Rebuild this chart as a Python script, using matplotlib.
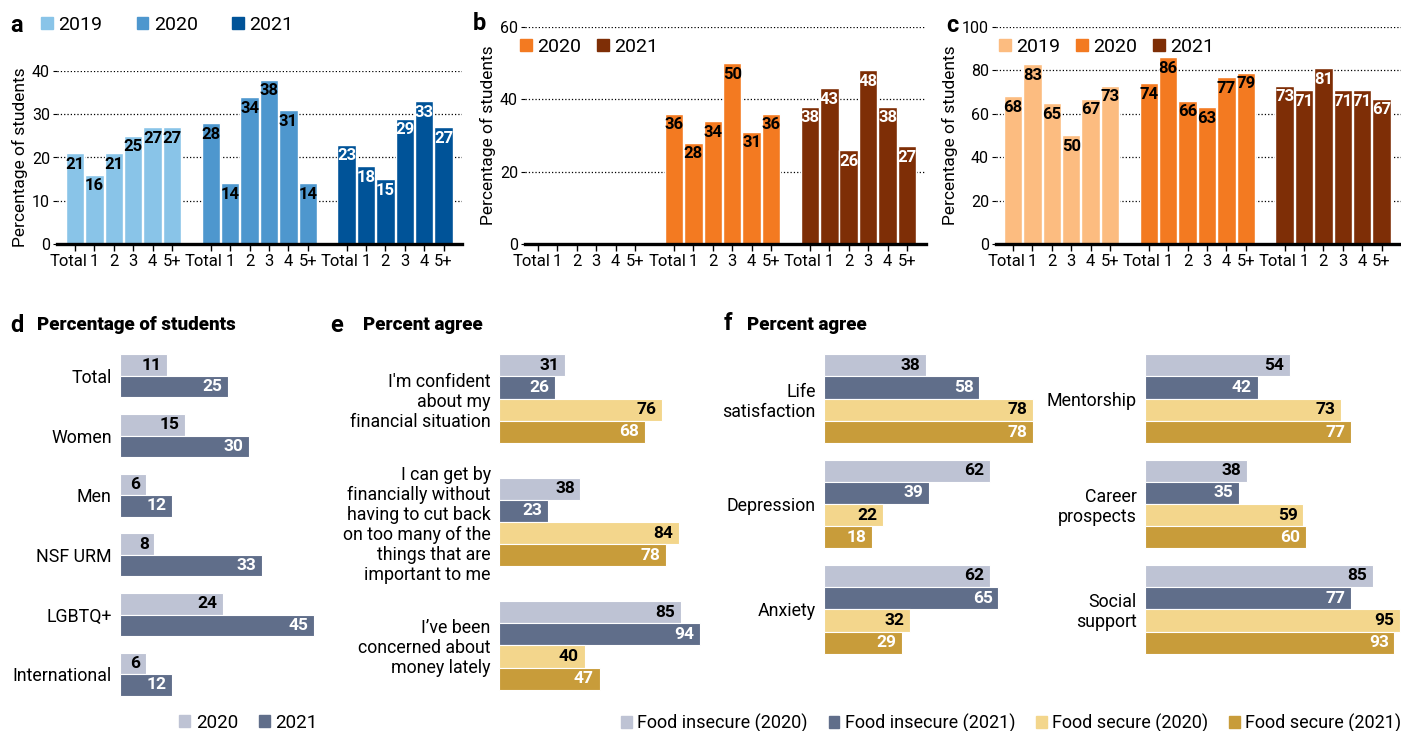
import matplotlib
matplotlib.use("Agg")
import matplotlib.pyplot as plt
from matplotlib.patches import Patch
from matplotlib.transforms import ScaledTranslation
import numpy as np

plt.rcParams['font.family'] = ['Roboto', 'DejaVu Sans']

W, H = 1401, 731

# ---- data ----
groups = ["Total", "1", "2", "3", "4", "5+"]

a_2019 = [21, 16, 21, 25, 27, 27]
a_2020 = [28, 14, 34, 38, 31, 14]
a_2021 = [23, 18, 15, 29, 33, 27]

b_2020 = [36, 28, 34, 50, 31, 36]
b_2021 = [38, 43, 26, 48, 38, 27]

c_2019 = [68, 83, 65, 50, 67, 73]
c_2020 = [74, 86, 66, 63, 77, 79]
c_2021 = [73, 71, 81, 71, 71, 67]

d_groups = ["Total", "Women", "Men", "NSF URM", "LGBTQ+", "International"]
d_2020 = [11, 15, 6, 8, 24, 6]
d_2021 = [25, 30, 12, 33, 45, 12]

e_items = ["I'm confident\nabout my\nfinancial situation",
           "I can get by\nfinancially without\nhaving to cut back\non too many of the\nthings that are\nimportant to me",
           "I\u2019ve been\nconcerned about\nmoney lately"]
e_insecure_2020 = [31, 38, 85]
e_insecure_2021 = [26, 23, 94]
e_secure_2020 = [76, 84, 40]
e_secure_2021 = [68, 78, 47]

f_left_items = ["Life\nsatisfaction", "Depression", "Anxiety"]
f_left_insecure_2020 = [38, 62, 62]
f_left_insecure_2021 = [58, 39, 65]
f_left_secure_2020 = [78, 22, 32]
f_left_secure_2021 = [78, 18, 29]

f_right_items = ["Mentorship", "Career\nprospects", "Social\nsupport"]
f_right_insecure_2020 = [54, 38, 85]
f_right_insecure_2021 = [42, 35, 77]
f_right_secure_2020 = [73, 59, 95]
f_right_secure_2021 = [77, 60, 93]

# ---- colours ----
blue19, blue20, blue21 = "#89C4E8", "#4E97CE", "#005398"
org19, org20, org21 = "#FCBC80", "#F37A21", "#7E2E06"
ins20, ins21, sec20, sec21 = "#BEC3D4", "#606E8A", "#F3D68C", "#C89C3A"

fig = plt.figure(figsize=(W / 100, H / 100), dpi=100)


def px_axes(left, top, right, bottom):
    return fig.add_axes([left / W, 1 - bottom / H, (right - left) / W, (bottom - top) / H])


def column_panel(ax, series, slots, colors, textcolors, ymax, yticks, xlim):
    for vals, slot, col, tcol in zip(series, slots, colors, textcolors):
        x = np.arange(len(groups)) + 7 * slot
        ax.bar(x, vals, width=0.95, color=col, edgecolor="white", linewidth=1, zorder=2)
        for xi, v in zip(x, vals):
            ax.annotate(str(v), (xi, v), xytext=(0, -8), textcoords="offset points",
                        ha="center", va="center", fontsize=12, fontweight="bold",
                        color=tcol, zorder=3)
    ticks = np.concatenate([np.arange(len(groups)) + 7 * s for s in range(3)])
    ax.set_xticks(ticks, groups * 3)
    ax.set_xlim(*xlim)
    ax.set_ylim(0, ymax)
    ax.set_yticks(yticks)
    ax.grid(axis="y", linestyle=":", color="black", linewidth=0.9)
    ax.set_axisbelow(True)
    for s in ["top", "right", "left"]:
        ax.spines[s].set_visible(False)
    ax.spines["bottom"].set_linewidth(2.4)
    ax.tick_params(axis="x", length=5, width=1, pad=2, labelsize=12)
    ax.tick_params(axis="y", length=3, width=0.8, pad=2, labelsize=11.5)
    ax.set_ylabel("Percentage of students", fontsize=12.5, labelpad=3)
    shift = ScaledTranslation(-5 / 72, 0, fig.dpi_scale_trans)
    for lab in ax.get_xticklabels():
        if lab.get_text() == "Total":
            lab.set_transform(lab.get_transform() + shift)


def hbar_panel(ax, labels, series, colors, textcolors, xmax, barh):
    n = len(series)
    y = np.arange(len(labels))
    offsets = (np.arange(n) - (n - 1) / 2) * barh
    for vals, off, col, tcol in zip(series, offsets, colors, textcolors):
        ax.barh(y + off, vals, height=barh, color=col, edgecolor="white", linewidth=0.8)
        for yi, v in zip(y, vals):
            ax.annotate(str(v), (v, yi + off), xytext=(-4, 0), textcoords="offset points",
                        ha="right", va="center", fontsize=12.5, fontweight="bold", color=tcol)
    ax.set_ylim(len(labels) - 0.5, -0.5)
    ax.set_xlim(0, xmax)
    ax.set_yticks(y, labels)
    for t in ax.get_yticklabels():
        t.set_linespacing(1.15)
    ax.tick_params(length=0, pad=6, labelsize=12.8)
    ax.set_xticks([])
    for s in ax.spines.values():
        s.set_visible(False)


def legend(handles, x, y, spacing, size):
    fig.legend(handles=handles, loc="center left", bbox_to_anchor=(x / W, 1 - y / H),
               ncol=len(handles), frameon=False, fontsize=size, borderpad=0,
               borderaxespad=0, handlelength=0.6, handleheight=0.6,
               handletextpad=0.3, columnspacing=spacing)


# ---- top row ----
ax_a = px_axes(57, 71, 462, 244)
column_panel(ax_a, [a_2019, a_2020, a_2021], [0, 1, 2], [blue19, blue20, blue21],
             ["black", "black", "white"], 40, [0, 10, 20, 30, 40], (-0.93, 19.95))

ax_b = px_axes(525, 27, 926, 244)
column_panel(ax_b, [b_2020, b_2021], [1, 2], [org20, org21],
             ["black", "white"], 60, [0, 20, 40, 60], (-0.67, 19.98))

ax_c = px_axes(996, 27, 1401, 244)
column_panel(ax_c, [c_2019, c_2020, c_2021], [0, 1, 2], [org19, org20, org21],
             ["black", "black", "white"], 100, [0, 20, 40, 60, 80, 100], (-0.88, 20.0))

legend([Patch(color=blue19, label="2019"), Patch(color=blue20, label="2020"),
        Patch(color=blue21, label="2021")], 41, 25, 1.75, 14)
legend([Patch(color=org20, label="2020"), Patch(color=org21, label="2021")], 520, 47, 0.8, 14)
legend([Patch(color=org19, label="2019"), Patch(color=org20, label="2020"),
        Patch(color=org21, label="2021")], 999, 47, 0.8, 14)

# ---- bottom row ----
ax_d = px_axes(120, 346, 330, 704)
hbar_panel(ax_d, d_groups, [d_2020, d_2021], [ins20, ins21], ["black", "white"], 48.8, 0.36)

ax_e = px_axes(499, 337, 713, 707)
hbar_panel(ax_e, e_items, [e_insecure_2020, e_insecure_2021, e_secure_2020, e_secure_2021],
           [ins20, ins21, sec20, sec21], ["black", "white", "black", "white"], 100, 0.18)

ax_f1 = px_axes(824, 346, 1092, 662)
hbar_panel(ax_f1, f_left_items,
           [f_left_insecure_2020, f_left_insecure_2021, f_left_secure_2020, f_left_secure_2021],
           [ins20, ins21, sec20, sec21], ["black", "white", "black", "white"], 100, 0.211)

ax_f2 = px_axes(1145, 346, 1401, 662)
hbar_panel(ax_f2, f_right_items,
           [f_right_insecure_2020, f_right_insecure_2021, f_right_secure_2020, f_right_secure_2021],
           [ins20, ins21, sec20, sec21], ["black", "white", "black", "white"], 95.5, 0.211)

legend([Patch(color=ins20, label="2020"), Patch(color=ins21, label="2021")], 179, 723, 1.1, 13.5)
legend([Patch(color=ins20, label="Food insecure (2020)"), Patch(color=ins21, label="Food insecure (2021)"),
        Patch(color=sec20, label="Food secure (2020)"), Patch(color=sec21, label="Food secure (2021)")],
       621, 723, 1.15, 13)

# ---- panel letters and titles ----
for letter, x, y in [("a", 10, 25), ("b", 473, 24), ("c", 946, 25),
                     ("d", 10, 325), ("e", 330, 325), ("f", 724, 323)]:
    fig.text(x / W, 1 - y / H, letter, fontsize=17, fontweight="bold", va="center", ha="left")
for title, x in [("Percentage of students", 37), ("Percent agree", 363), ("Percent agree", 747)]:
    fig.text(x / W, 1 - 325 / H, title, fontsize=13.5, fontweight="heavy", va="center", ha="left")

fig.savefig("out.png", dpi=100)
